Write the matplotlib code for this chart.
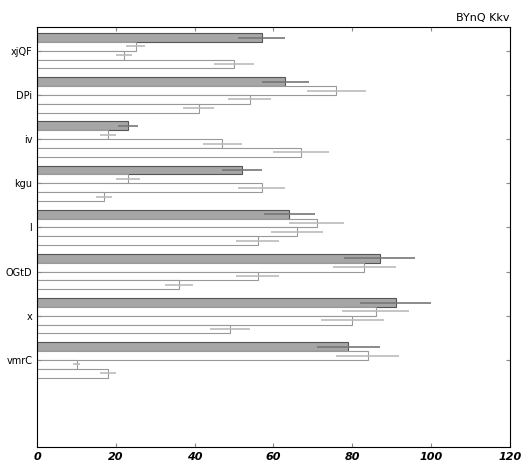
import numpy as np
import matplotlib
matplotlib.use("Agg")
import matplotlib.pyplot as plt

categories = ["xjQF", "DPi", "iv", "kgu", "l", "OGtD", "x", "vmrC"]
s1 = [57, 63, 23, 52, 64, 87, 91, 79]
s2 = [25, 76, 18, 23, 71, 83, 86, 84]
s3 = [22, 54, 47, 57, 66, 56, 80, 10]
s4 = [50, 41, 67, 17, 56, 36, 49, 18]
e1 = [6, 6, 2.5, 5, 6.5, 9, 9, 8]
e2 = [2.5, 7.5, 2, 3, 7, 8, 8.5, 8]
e3 = [2, 5.5, 5, 6, 6.5, 5.5, 8, 1]
e4 = [5, 4, 7, 2, 5.5, 3.5, 5, 2]

fig = plt.figure(figsize=(5.31, 4.72), dpi=100)
ax = fig.add_axes([0.07, 0.053, 0.89, 0.89])

y = np.arange(len(categories))
series = [(s1, e1), (s2, e2), (s3, e3), (s4, e4)]
offsets = [-0.3, -0.1, 0.1, 0.3]
for i, ((vals, errs), off) in enumerate(zip(series, offsets)):
    if i == 0:
        ax.barh(y + off, vals, height=0.2, color="#a6a6a6", edgecolor="#555555", linewidth=0.8)
        ecol = "#777777"
    else:
        ax.barh(y + off, vals, height=0.2, color="white", edgecolor="#999999", linewidth=0.8)
        ecol = "#bbbbbb"
    ax.errorbar(vals, y + off, xerr=errs, fmt="none", ecolor=ecol, elinewidth=1.2, capsize=0)

ax.set_xlim(0, 120)
ax.set_ylim(8.97, -0.54)
ax.set_yticks(y)
ax.set_yticklabels(categories, fontsize=7)
ax.set_xticks(np.arange(0, 121, 20))
ax.set_xticklabels([str(v) for v in range(0, 121, 20)], fontsize=8, fontstyle="italic", fontweight="bold")
ax.tick_params(direction="in", top=True, right=True, length=3, color="#888888")
for sp in ax.spines.values():
    sp.set_linewidth(0.8)
ax.set_title("BYnQ Kkv", loc="right", fontsize=8, pad=4)

fig.savefig("out.png", dpi=100)
